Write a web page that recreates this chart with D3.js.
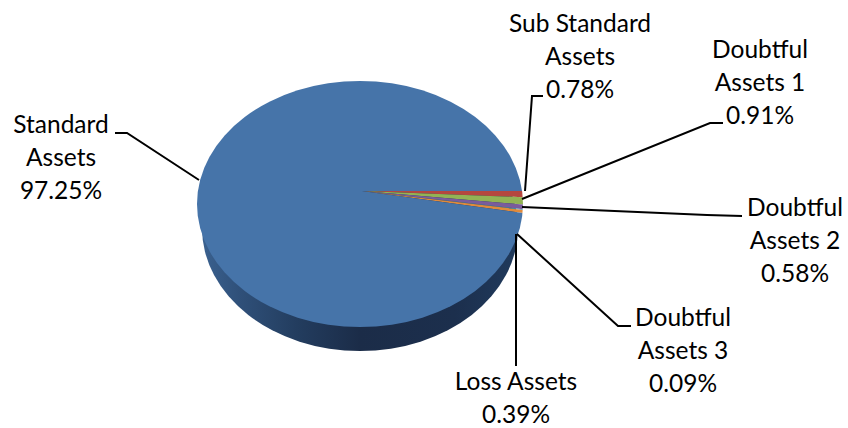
<!DOCTYPE html>
<html><head><meta charset="utf-8">
<script src="https://cdnjs.cloudflare.com/ajax/libs/d3/7.8.5/d3.min.js"></script>
<style>html,body{margin:0;background:#fff}svg{display:block}text{font-family:Lato,"Open Sans",sans-serif;font-size:24.5px;fill:#000;text-anchor:middle}</style>
</head><body><svg id="c" width="848" height="428"></svg>
<script>
const categories=["Sub Standard Assets","Doubtful Assets 1","Doubtful Assets 2","Doubtful Assets 3","Loss Assets","Standard Assets"];
const values=[0.78,0.91,0.58,0.09,0.39,97.25];
const colors=["#b5473f","#93b354","#7a5c9c","#3fa3bd","#e08a3c","#4674a9"];
const labelLines=[["Sub Standard","Assets","0.78%"],["Doubtful","Assets 1","0.91%"],["Doubtful","Assets 2","0.58%"],["Doubtful","Assets 3","0.09%"],["Loss Assets","0.39%"],["Standard","Assets","97.25%"]];
const labelCenterX=[580,760,795,683,516,61];
const labelFirstBaseline=[32,58,216,326,390,133];
const leaderPaths=[[[525,191],[532,96],[543,96]],[[522,199],[710,123],[723,123]],[[522,207],[707,215],[742,216]],[[517,234],[618,326],[631,326]],[[516,234],[516,366]],[[199,180],[127,133],[115,133]]];
const faceCx=360,faceCy=204,rx=163,ry=123,depth=24,sideRx=158;
const apexX=362,apexY=191,wedgeRy=128,overscan=1.3,lineHeight=32.8;

const svg=d3.select("#c");
const defs=svg.append("defs");
const sideGrad=defs.append("linearGradient").attr("id","side").attr("x1",0).attr("x2",1).attr("y1",0).attr("y2",0);
[[0,"#3a618f"],[.12,"#2f5079"],[.3,"#233d5f"],[.5,"#1b2c48"],[.8,"#1c2f4d"],[1,"#203a5c"]].forEach(s=>sideGrad.append("stop").attr("offset",s[0]).attr("stop-color",s[1]));
defs.append("clipPath").attr("id","faceClip").append("ellipse")
 .attr("cx",faceCx).attr("cy",faceCy).attr("rx",rx).attr("ry",ry);

const pie=d3.pie().sort(null).startAngle(Math.PI/2).endAngle(Math.PI/2+2*Math.PI);
const arcs=pie(values);
const arc=d3.arc().innerRadius(0).outerRadius(rx*overscan);

svg.append("ellipse").attr("cx",faceCx).attr("cy",faceCy+depth).attr("rx",sideRx).attr("ry",ry).attr("fill","url(#side)");

const clip=svg.append("g").attr("clip-path","url(#faceClip)");
clip.append("g").attr("transform",`translate(${apexX},${apexY}) scale(1,${wedgeRy/rx})`)
 .selectAll("path").data(arcs).join("path")
 .attr("d",arc)
 .attr("fill",(d,i)=>colors[i]);

const line=d3.line();
svg.append("g").selectAll("path").data(categories).join("path")
 .attr("d",(c,i)=>line(leaderPaths[i]))
 .attr("fill","none").attr("stroke","#000").attr("stroke-width",2);

svg.append("g").selectAll("text").data(categories).join("text")
 .attr("transform",(c,i)=>`translate(${labelCenterX[i]},${labelFirstBaseline[i]})`)
 .each(function(c,i){
   d3.select(this).selectAll("tspan").data(labelLines[i]).join("tspan")
     .attr("x",0).attr("y",(t,j)=>j*lineHeight).text(t=>t);
 });
</script></body></html>
